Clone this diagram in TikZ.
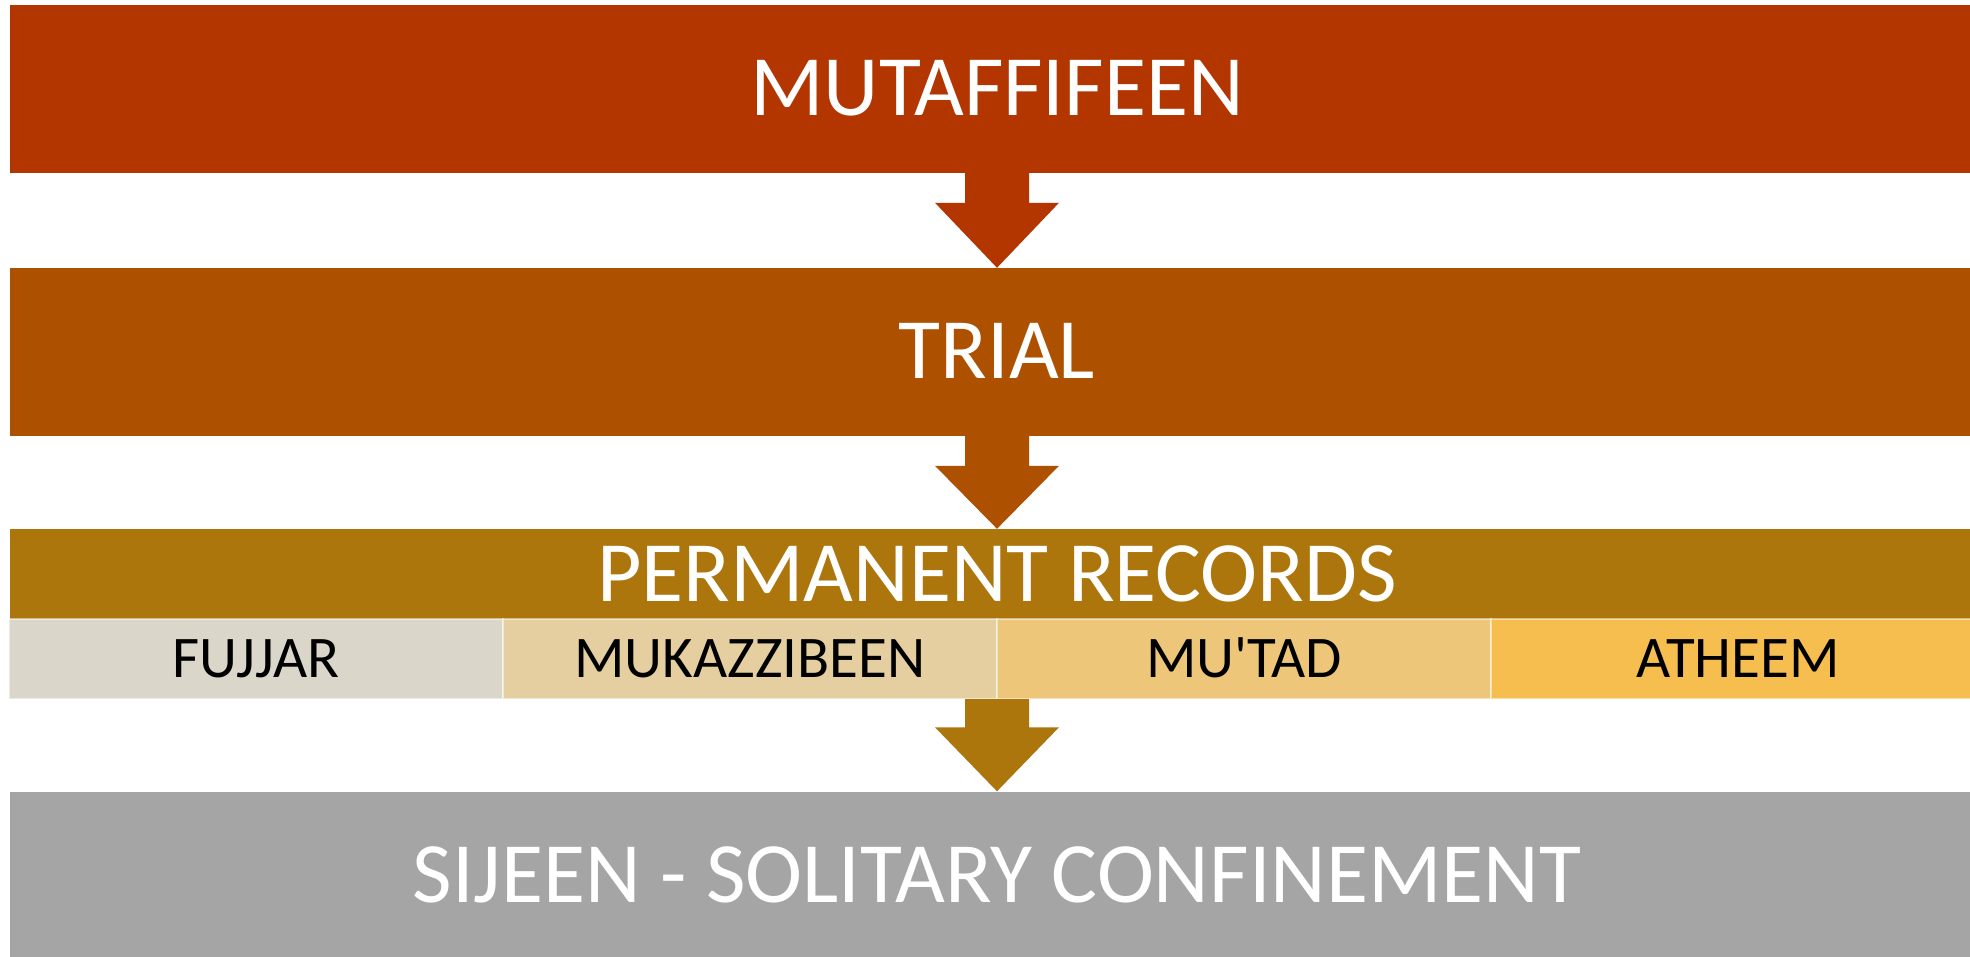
\documentclass[tikz,border=0pt]{standalone}
\usepackage{fontspec}
\setmainfont{Carlito}[Ligatures=TeXOff]
\usetikzlibrary{calc}
\definecolor{cA}{HTML}{B33500}
\definecolor{cB}{HTML}{AD5100}
\definecolor{cC}{HTML}{AD760D}
\definecolor{cD}{HTML}{A5A5A5}
\definecolor{sA}{HTML}{DAD6CA}
\definecolor{sB}{HTML}{E5CFA0}
\definecolor{sC}{HTML}{EDC67A}
\definecolor{sD}{HTML}{F6BE4E}
\tikzset{
  band/.style={rectangle, inner sep=0pt, minimum width=1974pt, minimum height=168pt,
    text=white, font=\fontsize{86}{100}\selectfont, text height=54pt, text depth=0pt},
  header/.style={rectangle, inner sep=0pt, minimum width=1974pt, minimum height=90pt,
    text=white, font=\fontsize{86}{100}\selectfont, text height=54pt, text depth=0pt},
  cell/.style={rectangle, inner sep=0pt, minimum width=494pt, minimum height=80pt,
    draw=white, draw opacity=0.5, line width=1.2pt,
    text=black, font=\fontsize{59}{70}\selectfont, text height=37pt, text depth=0pt},
}
\begin{document}
\begin{tikzpicture}[x=1pt,y=-1pt]
\clip (0,0) rectangle (1970,957);
\fill[white] (0,0) rectangle (1970,957);
% bands
\node[band, fill=cA] (mut) at (997,89) {MUTAFFIFEEN};
\node[band, fill=cB] (trial) at (997,352) {TRIAL};
\node[header, fill=cC] (perm) at (997,574) {PERMANENT RECORDS};
\node[cell, fill=sA] (fuj) at (256,659) {FUJJAR};
\node[cell, fill=sB] (muk) at (750,659) {MUKAZZIBEEN};
\node[cell, fill=sC] (mutad) at (1244,659) {MU'TAD};
\node[cell, fill=sD] (ath) at (1738,659) {ATHEEM};
\node[band, fill=cD] (sij) at (997,875.5) {SIJEEN - SOLITARY CONFINEMENT};
% block arrows
\fill[cA] ($(mut.south)+(-32,0)$) -- ($(trial.north)+(-32,-65)$) -- ($(trial.north)+(-62,-65)$)
  -- (trial.north) -- ($(trial.north)+(62,-65)$) -- ($(trial.north)+(32,-65)$)
  -- ($(mut.south)+(32,0)$) -- cycle;
\fill[cB] ($(trial.south)+(-32,0)$) -- ($(perm.north)+(-32,-63)$) -- ($(perm.north)+(-62,-63)$)
  -- (perm.north) -- ($(perm.north)+(62,-63)$) -- ($(perm.north)+(32,-63)$)
  -- ($(trial.south)+(32,0)$) -- cycle;
\coordinate (rowbot) at (997,699);
\fill[cC] ($(rowbot)+(-32,0)$) -- ($(sij.north)+(-32,-64)$) -- ($(sij.north)+(-62,-64)$)
  -- (sij.north) -- ($(sij.north)+(62,-64)$) -- ($(sij.north)+(32,-64)$)
  -- ($(rowbot)+(32,0)$) -- cycle;
\end{tikzpicture}
\end{document}
